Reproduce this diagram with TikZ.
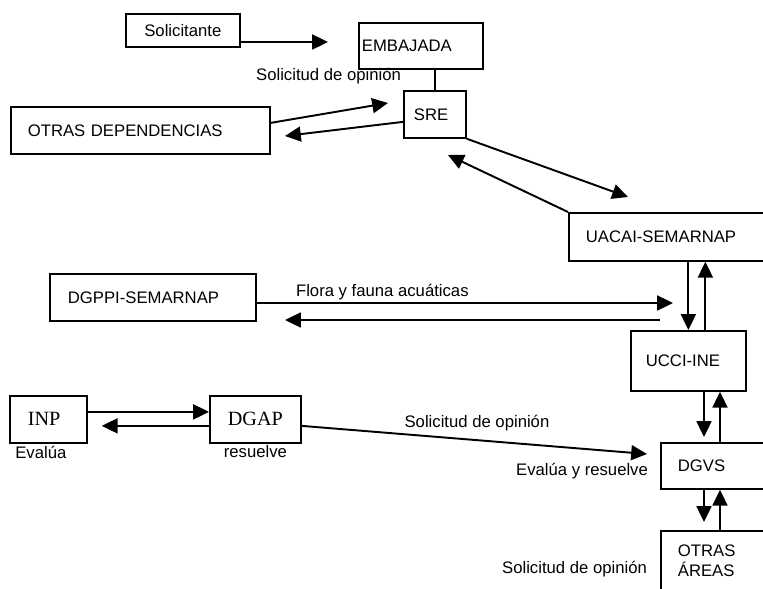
\documentclass[tikz,border=0pt]{standalone}
\usepackage{fontspec}
\setmainfont{Liberation Sans}
\newfontfamily\romana{Liberation Serif}
\usetikzlibrary{positioning,arrows.meta}

\tikzset{
  caja/.style={draw, line width=1pt, anchor=north west, align=left,
    inner ysep=0pt, font=\fontsize{9.5pt}{11.5pt}\selectfont},
  cajarom/.style={caja, font=\romana\fontsize{11.5pt}{13pt}\selectfont},
  etiq/.style={inner sep=1pt, font=\fontsize{9.5pt}{11.5pt}\selectfont},
  flecha/.style={-{Triangle[length=9pt,width=8.5pt]}, line width=1.1pt},
  linea/.style={line width=1.1pt}
}

\begin{document}
\begin{tikzpicture}[x=0.02cm, y=-0.02cm]

\useasboundingbox (0,0) rectangle (763,588);
\clip (0,0) rectangle (763,588);

\node (sol) [caja, align=center, inner xsep=0.1cm, text width=2.08cm, minimum height=0.66cm] at (125,13) {Solicitante};
\node (emb) [caja, inner xsep=0.06cm, text width=2.36cm, minimum height=0.92cm] at (358,22) {EMBAJADA};
\node (sre) [caja, inner xsep=0.2cm, text width=0.84cm, minimum height=0.94cm] at (403,90) {SRE};
\node (odep) [caja, inner xsep=0.34cm, text width=4.5cm, minimum height=0.94cm] at (10,106) {OTRAS DEPENDENCIAS};
\node (uacai) [caja, inner xsep=0.34cm, text width=3.72cm, minimum height=0.96cm] at (568,212) {UACAI-SEMARNAP};
\node (dgppi) [caja, inner xsep=0.36cm, text width=3.4cm, minimum height=0.94cm] at (49,273) {DGPPI-SEMARNAP};
\node (ucci) [caja, inner xsep=0.3cm, text width=1.7cm, minimum height=1.2cm] at (630,330) {UCCI-INE};
\node (inp) [cajarom, inner xsep=0.36cm, text width=0.82cm, minimum height=0.94cm] at (9,395) {INP};
\node (dgap) [cajarom, inner xsep=0.36cm, text width=1.1cm, minimum height=0.94cm] at (209,395) {DGAP};
\node (dgvs) [caja, inner xsep=0.34cm, text width=1.72cm, minimum height=0.92cm] at (660,442) {DGVS};
\node (oareas) [caja, inner xsep=0.34cm, text width=1.72cm, minimum height=1.2cm] at (660,530) {OTRAS\\ÁREAS};

% puntas sueltas
\coordinate (pEmb) at (328,42);
\coordinate (pSre) at (388,103);
\coordinate (pOdep) at (285,136);
\coordinate (pUacai) at (628,197);
\coordinate (pSreB) at (448,155);
\coordinate (pFlora) at (673,303);
\coordinate (pVuelta) at (660,320);
\coordinate (pDgppi) at (285,320);
\coordinate (pDgvs) at (647,454);

\draw[flecha] (sol.east |- pEmb) -- (pEmb);
\draw[linea] (sre.north |- emb.south) -- (sre.north);
\node (solop1) [etiq, above left=0pt of sre.north west, yshift=0.08cm] {Solicitud de opinión};
\draw[flecha] ([yshift=0.15cm]odep.east) -- (pSre);
\draw[flecha] ([yshift=-0.15cm]sre.west) -- (pOdep);
\draw[flecha] (sre.south east) -- (pUacai);
\draw[flecha] (uacai.north west) -- (pSreB);

\draw[flecha] (dgppi.east |- pFlora) -- (pFlora)
  node (flora) [etiq, pos=0.088, above right] {Flora y fauna acuáticas};
\draw[flecha] (pVuelta) -- (pDgppi);

\draw[flecha] (uacai.south -| ucci.north) -- (ucci.north);
\draw[flecha] ([xshift=0.34cm]ucci.north) -- ([xshift=0.34cm]ucci.north |- uacai.south);

\draw[flecha, shorten >=0.1cm] ([xshift=0.88cm]dgvs.north west |- ucci.south) -- ([xshift=0.88cm]dgvs.north west);
\draw[flecha] ([xshift=1.2cm]dgvs.north west) -- ([xshift=1.2cm]dgvs.north west |- ucci.south);
\draw[flecha, shorten >=0.16cm] ([xshift=0.88cm]dgvs.south west) -- ([xshift=0.88cm]oareas.north west);
\draw[flecha] ([xshift=1.2cm]oareas.north west) -- ([xshift=1.2cm]dgvs.south west);

\draw[flecha] ([yshift=0.15cm]inp.east) -- ([yshift=0.15cm]dgap.west);
\draw[flecha, shorten >=0.28cm] ([yshift=-0.13cm]dgap.west) -- ([yshift=-0.13cm]inp.east);
\node (evalua) [etiq, below=0pt of inp.south, xshift=-0.15cm] {Evalúa};
\node (resuelve) [etiq, below=0pt of dgap.south] {resuelve};

\draw[flecha] ([yshift=-0.13cm]dgap.east) -- (pDgvs)
  node (solop2) [etiq, pos=0.29, above right] {Solicitud de opinión};
\node (evres) [etiq, left=0.2cm of dgvs.west, yshift=-0.1cm] {Evalúa y resuelve};
\node (solop3) [etiq, left=0.22cm of oareas.west, yshift=-0.16cm] {Solicitud de opinión};

\end{tikzpicture}
\end{document}
